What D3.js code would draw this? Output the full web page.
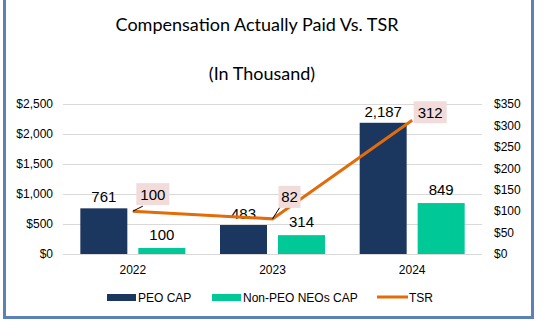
<!DOCTYPE html>
<html>
<head>
<meta charset="utf-8">
<script src="https://cdn.jsdelivr.net/npm/d3@7"></script>
<style>
  body { margin: 0; background: #fff; }
  svg { display: block; }
</style>
</head>
<body>
<div id="chart"></div>
<script>
var years = ['2022', '2023', '2024'];
var peoCap = [761, 483, 2187];
var nonPeoCap = [100, 314, 849];
var tsr = [100, 82, 312];
var leftTicks = [0, 500, 1000, 1500, 2000, 2500];
var rightTicks = [0, 50, 100, 150, 200, 250, 300, 350];

var width = 546, height = 323;
var plotLeft = 63, plotRight = 482, plotTop = 104, plotBottom = 254;

var navy = '#1B365F', teal = '#00C896', orange = '#E36C0A';

var svg = d3.select('#chart').append('svg')
  .attr('width', width).attr('height', height);

// outer border
svg.append('rect')
  .attr('x', 4.5).attr('y', -2).attr('width', 528).attr('height', 319.5)
  .attr('fill', '#fff').attr('stroke', '#5B82B8').attr('stroke-width', 3);

svg.append('text').attr('x', 257).attr('y', 31)
  .attr('text-anchor', 'middle')
  .style('font-family', 'Lato, "Open Sans", sans-serif').style('font-size', '18px')
  .text('Compensation Actually Paid Vs. TSR');
svg.append('text').attr('x', 262).attr('y', 80)
  .attr('text-anchor', 'middle')
  .style('font-family', 'Lato, "Open Sans", sans-serif').style('font-size', '18px')
  .text('(In Thousand)');

var x = d3.scaleBand().domain(years).range([plotLeft, plotRight]);
var yL = d3.scaleLinear().domain([0, 2500]).range([plotBottom, plotTop]);
var yR = d3.scaleLinear().domain([0, 350]).range([plotBottom, plotTop]);

var font = '"Liberation Sans", Arial, sans-serif';

// gridlines
svg.append('g').selectAll('line').data(leftTicks).enter()
  .append('line')
  .attr('x1', plotLeft).attr('x2', plotRight)
  .attr('y1', function(d){ return Math.round(yL(d)) + 0.5; })
  .attr('y2', function(d){ return Math.round(yL(d)) + 0.5; })
  .attr('stroke', '#D9D9D9').attr('stroke-width', 1);

// left axis
var leftAxis = d3.axisLeft(yL).tickValues(leftTicks).tickSize(0).tickPadding(10)
  .tickFormat(function(d){ return '$' + d3.format(',')(d); });
var gL = svg.append('g').attr('transform', 'translate(' + plotLeft + ',0)').call(leftAxis);
gL.select('.domain').remove();
gL.selectAll('text').style('font-family', font).style('font-size', '12px').attr('fill', '#000');

// right axis
var rightAxis = d3.axisRight(yR).tickValues(rightTicks).tickSize(0).tickPadding(12)
  .tickFormat(function(d){ return '$' + d; });
var gR = svg.append('g').attr('transform', 'translate(' + plotRight + ',0)').call(rightAxis);
gR.select('.domain').remove();
gR.selectAll('text').style('font-family', font).style('font-size', '12px').attr('fill', '#000');

// category axis labels
svg.append('g').selectAll('text').data(years).enter()
  .append('text')
  .attr('x', function(d){ return x(d) + x.bandwidth() / 2; })
  .attr('y', 274)
  .attr('text-anchor', 'middle')
  .style('font-family', font).style('font-size', '12px')
  .text(function(d){ return d; });

var barW = 47, gap = 11;
var groupOff = (x.bandwidth() - (2 * barW + gap)) / 2;

svg.append('g').selectAll('rect').data(peoCap).enter()
  .append('rect')
  .attr('x', function(d, i){ return x(years[i]) + groupOff; })
  .attr('y', function(d){ return yL(d); })
  .attr('width', barW)
  .attr('height', function(d){ return plotBottom - yL(d); })
  .attr('fill', navy);

svg.append('g').selectAll('rect').data(nonPeoCap).enter()
  .append('rect')
  .attr('x', function(d, i){ return x(years[i]) + groupOff + barW + gap; })
  .attr('y', function(d){ return yL(d); })
  .attr('width', barW)
  .attr('height', function(d){ return plotBottom - yL(d); })
  .attr('fill', teal);

// bar value labels
svg.append('g').selectAll('text').data(peoCap).enter()
  .append('text')
  .attr('x', function(d, i){ return x(years[i]) + groupOff + barW / 2; })
  .attr('y', function(d){ return yL(d) - 6; })
  .attr('text-anchor', 'middle')
  .style('font-family', font).style('font-size', '15px')
  .text(function(d){ return d3.format(',')(d); });

svg.append('g').selectAll('text').data(nonPeoCap).enter()
  .append('text')
  .attr('x', function(d, i){ return x(years[i]) + groupOff + barW * 1.5 + gap; })
  .attr('y', function(d){ return yL(d) - 8; })
  .attr('text-anchor', 'middle')
  .style('font-family', font).style('font-size', '15px')
  .text(function(d){ return d3.format(',')(d); });

// TSR line
var line = d3.line()
  .x(function(d, i){ return x(years[i]) + x.bandwidth() / 2; })
  .y(function(d){ return yR(d); });
svg.append('path').datum(tsr)
  .attr('d', line)
  .attr('fill', 'none').attr('stroke', orange).attr('stroke-width', 3);

// TSR labels with boxes (offsets from the point)
var labelOff = [[20, -17], [17, -22], [18, -8]];
var tg = svg.append('g').selectAll('g').data(tsr).enter().append('g')
  .attr('transform', function(d, i){
    return 'translate(' + (x(years[i]) + x.bandwidth() / 2 + labelOff[i][0]) + ',' + (yR(d) + labelOff[i][1]) + ')';
  });
tg.append('rect')
  .attr('x', function(d){ return -String(d).length * 5.5; })
  .attr('y', -11)
  .attr('width', function(d){ return String(d).length * 11; })
  .attr('height', 22)
  .attr('fill', '#F2DCDB');
tg.append('text')
  .attr('text-anchor', 'middle').attr('y', 5.5)
  .style('font-family', font).style('font-size', '15px')
  .text(function(d){ return d; });

// leader lines for first two labels
svg.append('g').selectAll('line').data(tsr.slice(0, 2)).enter()
  .append('line')
  .attr('x1', function(d, i){ return x(years[i]) + x.bandwidth() / 2; })
  .attr('y1', function(d){ return yR(d); })
  .attr('x2', function(d, i){ return x(years[i]) + x.bandwidth() / 2 + (i === 0 ? 10 : 7); })
  .attr('y2', function(d, i){ return yR(d) + (i === 0 ? -5 : -11); })
  .attr('stroke', '#000').attr('stroke-width', 1);

// legend
var legend = [
  {name: 'PEO CAP', color: navy, type: 'bar', x: 107},
  {name: 'Non-PEO NEOs CAP', color: teal, type: 'bar', x: 212},
  {name: 'TSR', color: orange, type: 'line', x: 377}
];
var lg = svg.append('g').selectAll('g').data(legend).enter().append('g')
  .attr('transform', function(d){ return 'translate(' + d.x + ',297)'; });
lg.append('rect')
  .attr('x', 0).attr('y', function(d){ return d.type === 'bar' ? -3 : -1.5; })
  .attr('width', function(d){ return d.type === 'bar' ? 29 : 31; })
  .attr('height', function(d){ return d.type === 'bar' ? 7 : 3; })
  .attr('fill', function(d){ return d.color; });
lg.append('text')
  .attr('x', function(d){ return d.type === 'bar' ? 31 : 32; }).attr('y', 4.5)
  .style('font-family', font).style('font-size', '12px')
  .text(function(d){ return d.name; });
</script>
</body>
</html>
